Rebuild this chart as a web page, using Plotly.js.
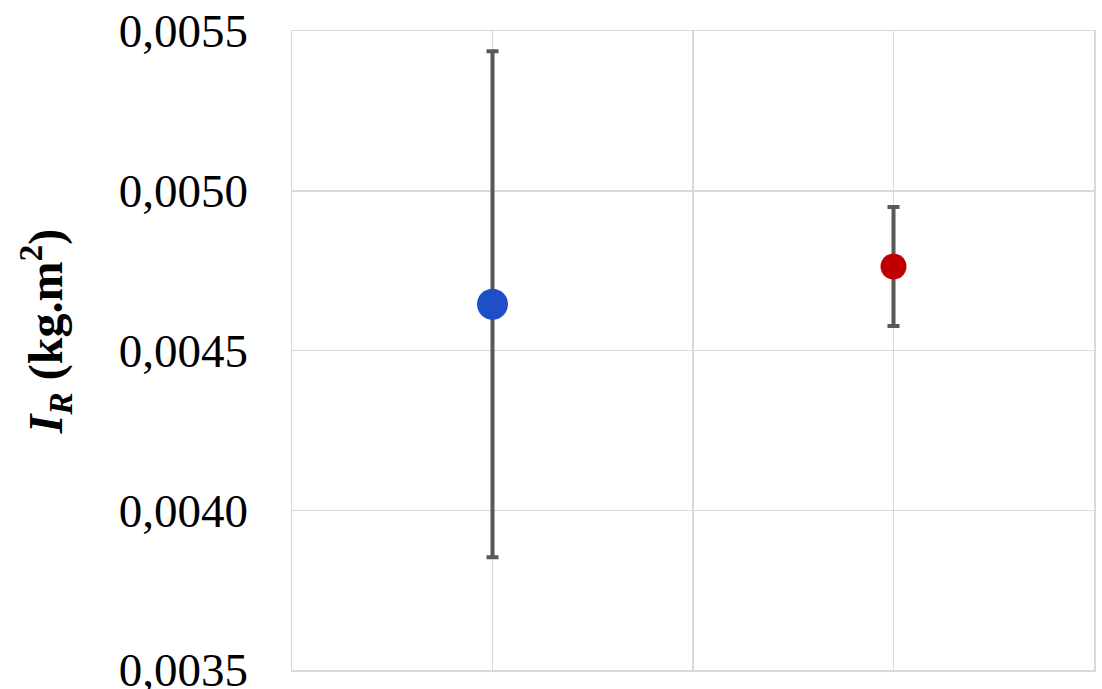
<!DOCTYPE html>
<html>
<head>
<meta charset="utf-8">
<script src="https://cdn.plot.ly/plotly-3.0.1.min.js"></script>
<style>html,body{margin:0;padding:0;background:#fff;}#chart{width:1102px;height:689px;}</style>
</head>
<body>
<div id="chart"></div>
<script>
const xPos = [1, 3];
const means = [0.004645, 0.004763];
const errors = [0.000792, 0.000186];
const colors = ['#1F4FC8', '#C00000'];
const sizes = [31, 26];
const yTicks = [0.0035, 0.0040, 0.0045, 0.0050, 0.0055];
const yTitle = '<b><i>I</i><sub><i>R</i></sub> (kg.m<sup>2</sup>)</b>';

const traces = xPos.map((x, i) => ({
  type: 'scatter',
  mode: 'markers',
  x: [x],
  y: [means[i]],
  marker: {color: colors[i], size: sizes[i]},
  error_y: {type: 'data', array: [errors[i]], visible: true, color: '#595959', thickness: 4, width: 6},
  showlegend: false,
  hoverinfo: 'skip'
}));

const serif = '"Liberation Serif", "Times New Roman", serif';
const layout = {
  width: 1102, height: 689,
  margin: {l: 292, r: 8, t: 31, b: 19},
  paper_bgcolor: '#fff', plot_bgcolor: '#fff',
  separators: ',.',
  font: {family: serif, color: '#000'},
  xaxis: {
    range: [0, 4], dtick: 1, tick0: 0, showticklabels: false,
    showgrid: true, gridcolor: '#D9D9D9', gridwidth: 1.5,
    zeroline: false, showline: true, linecolor: '#D9D9D9', linewidth: 1.5, mirror: true
  },
  yaxis: {
    range: [0.0035, 0.0055], tickvals: yTicks, tickformat: '.4f',
    tickfont: {size: 47, family: serif},
    ticks: '', ticklabelstandoff: 33, ticklabeloverflow: 'allow',
    showgrid: true, gridcolor: '#D9D9D9', gridwidth: 1.5,
    zeroline: false, showline: true, linecolor: '#D9D9D9', linewidth: 1.5, mirror: true
  },
  annotations: [{
    text: yTitle, xref: 'paper', yref: 'paper',
    x: -0.308, y: 0.53, xanchor: 'center', yanchor: 'middle',
    textangle: -90, showarrow: false,
    font: {size: 48, family: serif, color: '#000'}
  }]
};

Plotly.newPlot('chart', traces, layout, {displayModeBar: false, staticPlot: true});
</script>
</body>
</html>
